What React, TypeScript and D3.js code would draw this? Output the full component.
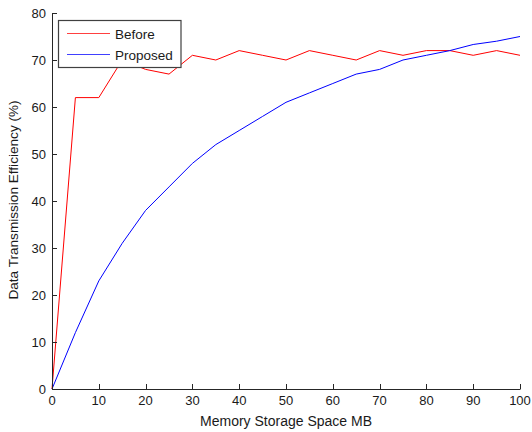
import React from "react";
import * as d3 from "d3";

const xValues = [0, 5, 10, 15, 20, 25, 30, 35, 40, 45, 50, 55, 60, 65, 70, 75, 80, 85, 90, 95, 100];
const beforeValues = [0, 62, 62, 70, 68, 67, 71, 70, 72, 71, 70, 72, 71, 70, 72, 71, 72, 72, 71, 72, 71];
const proposedValues = [0, 12, 23, 31, 38, 43, 48, 52, 55, 58, 61, 63, 65, 67, 68, 70, 71, 72, 73.3, 74, 75];
const xTicks = [0, 10, 20, 30, 40, 50, 60, 70, 80, 90, 100];
const yTicks = [0, 10, 20, 30, 40, 50, 60, 70, 80];
const seriesNames = ["Before", "Proposed"];
const seriesColors = ["#ff0000", "#0000ff"];

const W = 532, H = 432;
const L = 52, R = 520, T = 13, B = 389;
const FONT = "Arial, 'Liberation Sans', sans-serif";

export default function App() {
  const x = d3.scaleLinear().domain([0, 100]).range([L, R]);
  const y = d3.scaleLinear().domain([0, 80]).range([B, T]);
  const line = d3.line<number>().x((_, i) => x(xValues[i])).y((d) => y(d));
  const series = [beforeValues, proposedValues];

  return (
    <svg width={W} height={H} style={{ position: "absolute", left: 0, top: 0, background: "#fff" }}>
      <rect x={0} y={0} width={W} height={H} fill="#fff" />
      {series.map((s, i) => (
        <path key={i} d={line(s) || ""} fill="none" stroke={seriesColors[i]} strokeWidth={1} />
      ))}
      {/* axes */}
      <line x1={L} y1={B + 0.5} x2={R + 0.5} y2={B + 0.5} stroke="#262626" strokeWidth={1} />
      <line x1={L + 0.5} y1={T} x2={L + 0.5} y2={B + 0.5} stroke="#262626" strokeWidth={1} />
      {xTicks.map((t) => (
        <g key={"x" + t}>
          <line x1={Math.round(x(t)) + 0.5} x2={Math.round(x(t)) + 0.5} y1={B} y2={B - 5} stroke="#262626" />
          <text x={x(t)} y={405} textAnchor="middle" fontFamily={FONT} fontSize={13} fill="#1a1a1a">{t}</text>
        </g>
      ))}
      {yTicks.map((t) => (
        <g key={"y" + t}>
          <line x1={L} x2={L + 5} y1={Math.round(y(t)) + 0.5} y2={Math.round(y(t)) + 0.5} stroke="#262626" />
          <text x={46} y={y(t) + 4.5} textAnchor="end" fontFamily={FONT} fontSize={13} fill="#1a1a1a">{t}</text>
        </g>
      ))}
      <text x={286} y={426} textAnchor="middle" fontFamily={FONT} fontSize={14} fill="#1a1a1a">
        Memory Storage Space MB
      </text>
      <text transform={`translate(18,200) rotate(-90)`} textAnchor="middle" fontFamily={FONT} fontSize={13.6} fill="#1a1a1a">
        Data Transmission Efficiency (%)
      </text>
      {/* legend */}
      <rect x={58.5} y={20.5} width={122.5} height={47} fill="#fff" stroke="#404040" strokeWidth={1.2} />
      {seriesNames.map((n, i) => (
        <g key={n}>
          <line x1={67} x2={110} y1={33.5 + i * 21} y2={33.5 + i * 21} stroke={seriesColors[i]} strokeOpacity={0.75} strokeWidth={1} />
          <text x={115} y={39 + i * 21} fontFamily={FONT} fontSize={13.5} fill="#1a1a1a">{n}</text>
        </g>
      ))}
    </svg>
  );
}
